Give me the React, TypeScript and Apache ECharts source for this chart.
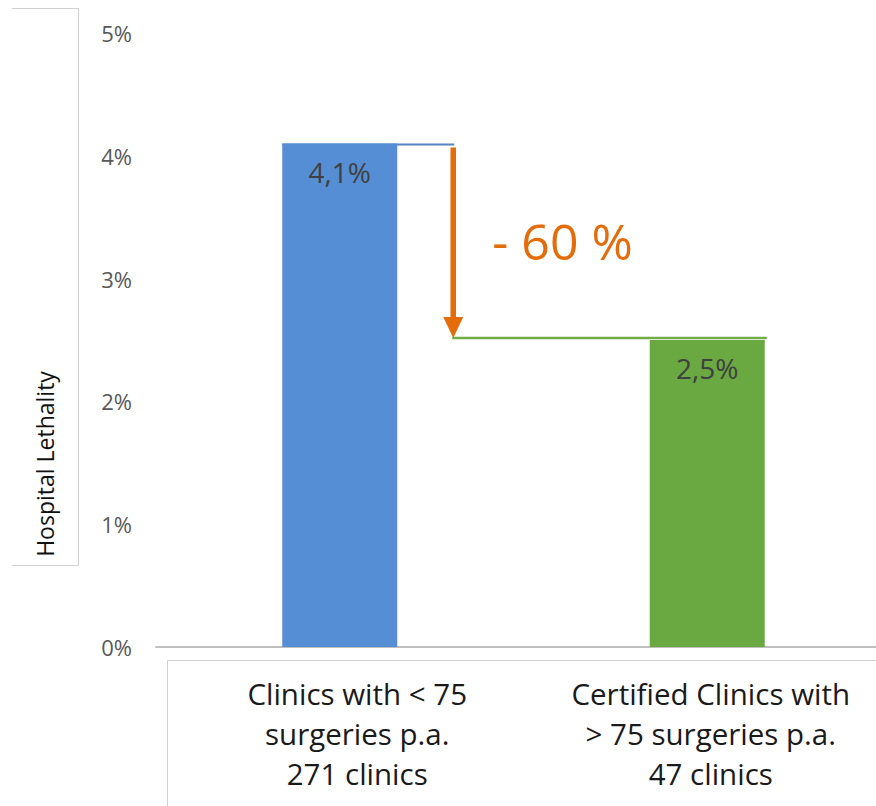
import React, { useEffect, useRef } from "react";
import * as echarts from "echarts";

// Hospital lethality by clinic group (percent)
const categories = [
  "Clinics with < 75\nsurgeries p.a.\n271 clinics",
  "Certified Clinics with\n> 75 surgeries p.a.\n47 clinics",
];
const lethality = [4.1, 2.5];
const barColors = ["#558ed5", "#6aa842"];
const yMin = 0;
const yMax = 5;
const yInterval = 1;
const yAxisTitle = "Hospital Lethality";
const reductionLabel = "- 60 %";

const fmtPct = (v: number) => v.toFixed(1).replace(".", ",") + "%";

export default function App() {
  const ref = useRef<HTMLDivElement>(null);

  useEffect(() => {
    if (!ref.current) return;
    const chart = echarts.init(ref.current, null, { renderer: "svg" });
    const barWidth = 115;

    const catText = {
      fontFamily: "Open Sans",
      fontSize: 29.5,
      lineHeight: 40,
      color: "#1a1a1a",
    };

    chart.setOption({
      animation: false,
      grid: { left: 156, top: 33, width: 735, height: 614 },
      xAxis: {
        type: "category",
        data: categories,
        axisLine: { show: true, lineStyle: { color: "#bfbfbf", width: 2 } },
        axisTick: { show: false },
        axisLabel: {
          margin: 26,
          interval: 0,
          formatter: (value: string, index: number) =>
            value
              .split("\n")
              .map((l) => `{c${index}|${l}}`)
              .join("\n"),
          rich: {
            c0: { ...catText, padding: [0, 0, 0, 35] },
            c1: { ...catText, padding: [0, 0, 0, 7] },
          },
        },
      },
      yAxis: {
        type: "value",
        min: yMin,
        max: yMax,
        interval: yInterval,
        axisLine: { show: false },
        axisTick: { show: false },
        splitLine: { show: false },
        axisLabel: {
          formatter: (v: number) => `${v}%`,
          fontFamily: "Open Sans",
          fontSize: 22,
          color: "#595959",
          margin: 24,
        },
      },
      series: [
        {
          type: "bar",
          barWidth,
          data: lethality.map((v, i) => ({
            value: v,
            itemStyle: { color: barColors[i] },
          })),
          label: {
            show: true,
            position: "insideTop",
            distance: 14,
            formatter: (p: any) => fmtPct(p.value),
            fontFamily: "Open Sans",
            fontSize: 28,
            color: "#404040",
          },
        },
      ],
    });

    // Connector lines and reduction arrow, placed from the axis scales
    const [x0, y0] = chart.convertToPixel({ gridIndex: 0 }, [0, lethality[0]]) as number[];
    const [x1, y1] = chart.convertToPixel({ gridIndex: 0 }, [1, lethality[1]]) as number[];
    const arrowX = x0 + barWidth / 2 + 56;
    const tipY = y1 - 2;

    chart.setOption({
      graphic: [
        // axis title box
        {
          type: "polyline",
          shape: { points: [[12, 8.5], [78.5, 8.5], [78.5, 565.5], [12, 565.5]] },
          style: { stroke: "#d0d0d0", lineWidth: 1, fill: null },
          silent: true,
        },
        {
          type: "text",
          x: 45,
          y: 464,
          rotation: Math.PI / 2,
          style: {
            text: yAxisTitle,
            fontFamily: "Open Sans",
            fontSize: 23,
            fill: "#111",
            align: "center",
            verticalAlign: "middle",
          },
        },
        // category label box
        {
          type: "polyline",
          shape: { points: [[167.5, 806], [167.5, 660.5], [876, 660.5]] },
          style: { stroke: "#d0d0d0", lineWidth: 1, fill: null },
          silent: true,
        },
        // level lines
        {
          type: "line",
          shape: { x1: x0 - barWidth / 2, y1: y0 + 1, x2: arrowX + 1, y2: y0 + 1 },
          style: { stroke: "#5a84bf", lineWidth: 2 },
        },
        {
          type: "line",
          shape: { x1: arrowX - 1, y1: tipY, x2: x1 + barWidth / 2 + 2, y2: tipY },
          style: { stroke: "#70ad47", lineWidth: 2.5 },
        },
        // arrow
        {
          type: "line",
          shape: { x1: arrowX, y1: y0 + 4, x2: arrowX, y2: tipY - 20 },
          style: { stroke: "#e46c0a", lineWidth: 5.5 },
        },
        {
          type: "polygon",
          shape: { points: [[arrowX - 10, tipY - 21], [arrowX + 10, tipY - 21], [arrowX, tipY]] },
          style: { fill: "#e46c0a" },
        },
        {
          type: "text",
          x: arrowX + 39,
          y: (y0 + tipY) / 2,
          style: {
            text: reductionLabel,
            fontFamily: "Open Sans",
            fontSize: 50,
            fill: "#e46c0a",
            align: "left",
            verticalAlign: "middle",
          },
        },
      ],
    });

    return () => chart.dispose();
  }, []);

  return (
    <div
      style={{
        position: "fixed",
        left: 0,
        top: 0,
        width: 876,
        height: 806,
        overflow: "hidden",
        background: "#fff",
      }}
    >
      <div ref={ref} style={{ width: 892, height: 806 }} />
    </div>
  );
}
